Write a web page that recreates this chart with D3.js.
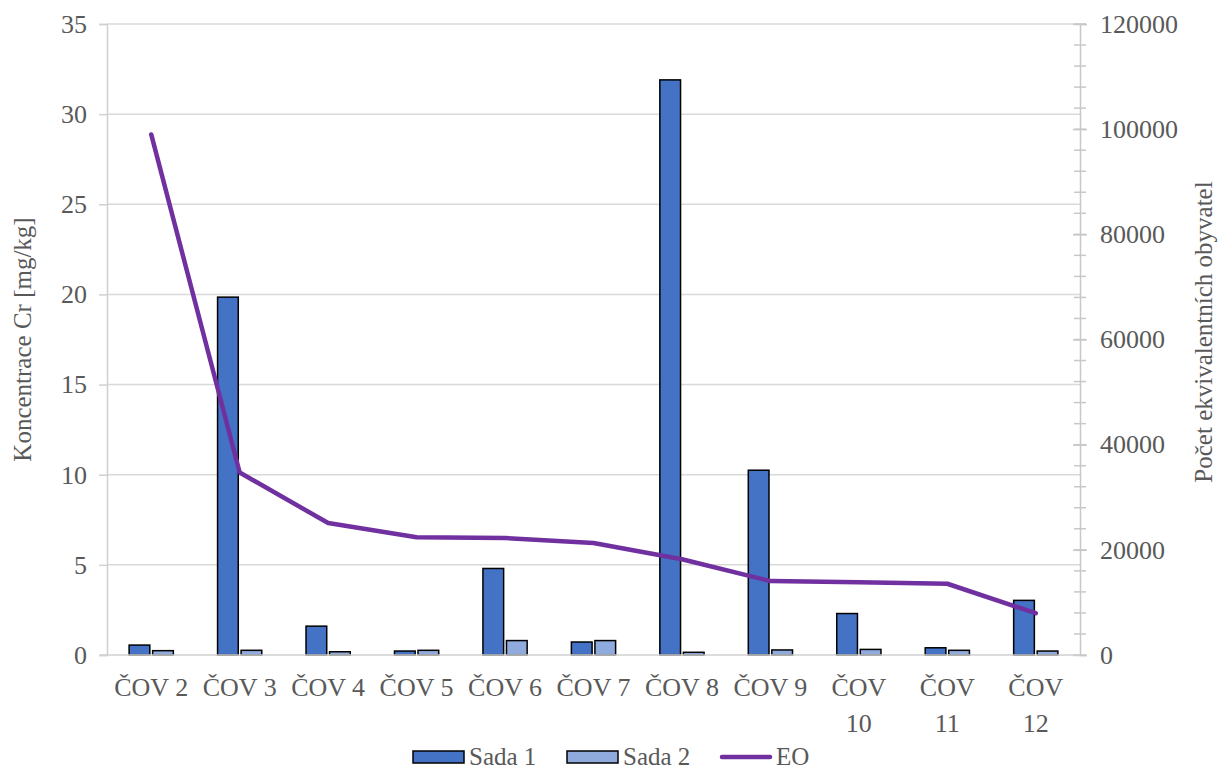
<!DOCTYPE html>
<html>
<head>
<meta charset="utf-8">
<script src="https://cdn.jsdelivr.net/npm/d3@7"></script>
<style>
  body { margin: 0; background: #fff; }
  svg, svg text { font-family: "Liberation Serif", "Tinos", "DejaVu Serif", serif !important; fill: #595959; }
</style>
</head>
<body>
<svg id="chart"></svg>
<script>
const categories = ["ČOV 2", "ČOV 3", "ČOV 4", "ČOV 5", "ČOV 6", "ČOV 7", "ČOV 8", "ČOV 9", "ČOV 10", "ČOV 11", "ČOV 12"];
const sada1 = [0.55, 19.85, 1.6, 0.22, 4.8, 0.72, 31.9, 10.25, 2.3, 0.4, 3.03];
const sada2 = [0.24, 0.26, 0.18, 0.26, 0.8, 0.8, 0.15, 0.28, 0.31, 0.26, 0.22];
const eo = [99000, 34700, 25100, 22400, 22250, 21300, 18200, 14050, 13850, 13550, 7950];
const leftTicks = [0, 5, 10, 15, 20, 25, 30, 35];
const rightTicks = [0, 20000, 40000, 60000, 80000, 100000, 120000];
const seriesNames = ["Sada 1", "Sada 2"];
const seriesColors = ["#4472C4", "#8FAADC"];

const FONT = "'Liberation Serif', 'Tinos', 'DejaVu Serif', serif";

let W = 1222, H = 771;
let margin = {top: 24, right: 142, bottom: 116, left: 107};
let width = W - margin.left - margin.right,
    height = H - margin.top - margin.bottom;

let svg = d3.select("#chart")
    .attr("width", W)
    .attr("height", H)
    .attr("font-family", FONT);
let g = svg.append("g")
    .attr("transform", "translate(" + margin.left + "," + margin.top + ")");

let x0 = d3.scaleBand()
    .domain(categories)
    .range([0, width])
    .paddingInner(0.5)
    .paddingOuter(0.25);
let x1 = d3.scaleBand()
    .domain(seriesNames)
    .range([0, x0.bandwidth()])
    .paddingInner(0.12);
let y = d3.scaleLinear().domain([0, 35]).range([height, 0]);
let y2 = d3.scaleLinear().domain([0, 120000]).range([height, 0]);

// gridlines
g.append("g")
    .selectAll("line")
    .data(leftTicks.slice(1))
    .enter().append("line")
    .attr("x1", 0).attr("x2", width)
    .attr("y1", d => y(d)).attr("y2", d => y(d))
    .attr("stroke", "#d9d9d9")
    .attr("stroke-width", 1.5);

// left axis
let leftAxis = g.append("g")
    .call(d3.axisLeft(y).tickValues(leftTicks).tickSize(8).tickPadding(12))
    .attr("font-family", FONT);
leftAxis.select(".domain").attr("stroke", "#d0d0d0").attr("stroke-width", 1.5);
leftAxis.selectAll(".tick line").attr("stroke", "#d0d0d0").attr("stroke-width", 1.5);
leftAxis.selectAll("text").style("font-size", "26px").style("font-family", FONT).attr("fill", "#595959");

// right axis with minor ticks
let minor = d3.range(0, 120001, 4000);
g.append("g")
    .selectAll("line")
    .data(minor)
    .enter().append("line")
    .attr("x1", width - 6).attr("x2", width + 6)
    .attr("y1", d => y2(d)).attr("y2", d => y2(d))
    .attr("stroke", "#c8c8c8")
    .attr("stroke-width", 1.5);
let rightAxis = g.append("g")
    .attr("transform", "translate(" + width + ",0)")
    .call(d3.axisRight(y2).tickValues(rightTicks).tickFormat(d3.format("d")).tickSize(7).tickPadding(13))
    .attr("font-family", FONT);
rightAxis.select(".domain").attr("stroke", "#c8c8c8").attr("stroke-width", 1.5);
rightAxis.selectAll(".tick line").attr("stroke", "#c8c8c8").attr("stroke-width", 1.5).attr("x1", -7);
rightAxis.selectAll("text").style("font-size", "26px").style("font-family", FONT).attr("fill", "#595959");

// bars
let groups = g.selectAll(".grp")
    .data(categories)
    .enter().append("g")
    .attr("class", "grp")
    .attr("transform", d => "translate(" + x0(d) + ",0)");
groups.selectAll("rect")
    .data((d, i) => [sada1[i], sada2[i]].map((v, k) => ({key: seriesNames[k], value: v, k: k})))
    .enter().append("rect")
    .attr("x", d => x1(d.key))
    .attr("y", d => y(d.value))
    .attr("width", x1.bandwidth())
    .attr("height", d => height - y(d.value))
    .attr("fill", d => seriesColors[d.k])
    .attr("stroke", "#000")
    .attr("stroke-width", 1.5);

// bottom axis line
g.append("line")
    .attr("x1", -7).attr("x2", width)
    .attr("y1", height).attr("y2", height)
    .attr("stroke", "#d0d0d0")
    .attr("stroke-width", 1.5);

// x labels (wrap the two-digit ones like Excel does)
let xl = g.append("g").selectAll("text")
    .data(categories)
    .enter().append("text")
    .attr("text-anchor", "middle")
    .attr("x", d => x0(d) + x0.bandwidth() / 2)
    .attr("y", height + 41)
    .style("font-size", "26px")
    .style("font-family", FONT);
xl.each(function(d) {
    let parts = d.length > 5 ? d.split(" ") : [d];
    let t = d3.select(this);
    parts.forEach((p, i) => {
        t.append("tspan")
            .attr("x", x0(d) + x0.bandwidth() / 2)
            .attr("dy", i === 0 ? 0 : 36)
            .text(p);
    });
});

// EO line
let line = d3.line()
    .x((d, i) => x0(categories[i]) + x0.bandwidth() / 2)
    .y(d => y2(d));
g.append("path")
    .datum(eo)
    .attr("d", line)
    .attr("fill", "none")
    .attr("stroke", "#7030A0")
    .attr("stroke-width", 4.5)
    .attr("stroke-linejoin", "round")
    .attr("stroke-linecap", "round");

// axis titles
svg.append("text")
    .attr("transform", "translate(31," + (margin.top + height / 2) + ") rotate(-90)")
    .attr("text-anchor", "middle")
    .style("font-size", "25px")
    .style("font-family", FONT)
    .text("Koncentrace Cr [mg/kg]");
svg.append("text")
    .attr("transform", "translate(1212,332) rotate(-90)")
    .attr("text-anchor", "middle")
    .style("font-size", "25px")
    .style("font-family", FONT)
    .text("Počet ekvivalentních obyvatel");

// legend
let legend = svg.append("g").attr("transform", "translate(413,757)");
let items = [
    {name: "Sada 1", type: "bar", color: seriesColors[0], x: 0},
    {name: "Sada 2", type: "bar", color: seriesColors[1], x: 154},
    {name: "EO", type: "line", color: "#7030A0", x: 307}
];
items.forEach(it => {
    let li = legend.append("g").attr("transform", "translate(" + it.x + ",0)");
    if (it.type === "bar") {
        li.append("rect")
            .attr("x", 0).attr("y", -6)
            .attr("width", 51).attr("height", 12)
            .attr("fill", it.color)
            .attr("stroke", "#000")
            .attr("stroke-width", 1.5);
    } else {
        li.append("line")
            .attr("x1", 2).attr("x2", 50)
            .attr("y1", 0).attr("y2", 0)
            .attr("stroke", it.color)
            .attr("stroke-width", 4.5)
            .attr("stroke-linecap", "round");
    }
    li.append("text")
        .attr("x", 56).attr("y", 8)
        .style("font-size", "25px")
        .style("font-family", FONT)
        .text(it.name);
});
</script>
</body>
</html>
